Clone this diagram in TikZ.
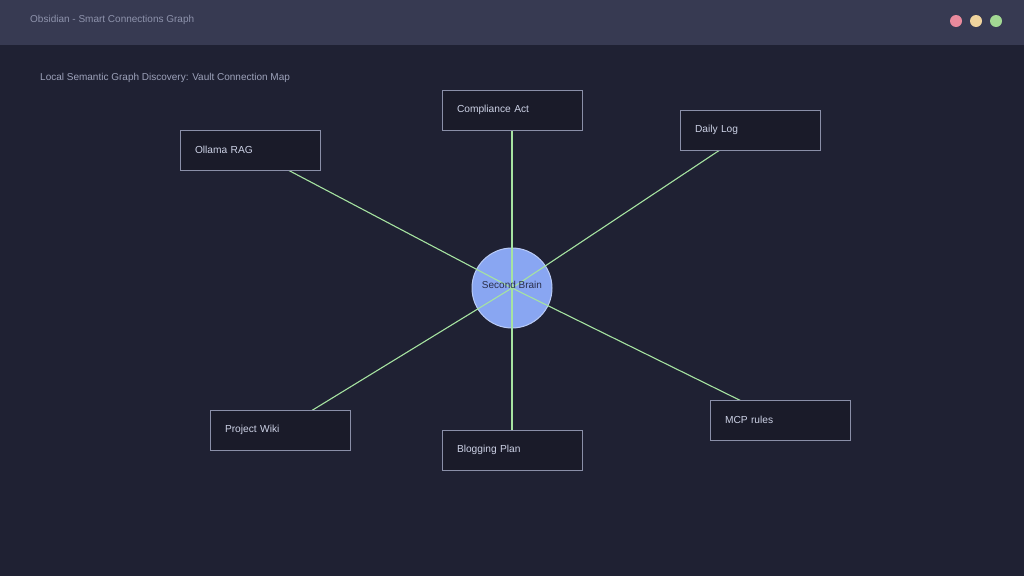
\documentclass[tikz,border=0pt]{standalone}
\usepackage{fontspec}
\setmainfont{Liberation Sans}
\pgfdeclarelayer{bg}
\pgfdeclarelayer{mid}
\pgfsetlayers{bg,mid,main}
\definecolor{canvas}{HTML}{1F2133}
\definecolor{bar}{HTML}{373A52}
\definecolor{titletext}{HTML}{8E93AC}
\definecolor{subtext}{HTML}{9DA2BA}
\definecolor{boxfill}{HTML}{1A1B29}
\definecolor{boxline}{HTML}{8A8FA8}
\definecolor{boxtext}{HTML}{CDD2E6}
\definecolor{edge}{HTML}{A6E3A1}
\definecolor{hubfill}{HTML}{89A6F2}
\definecolor{hubline}{HTML}{B9CBF7}
\definecolor{hubtext}{HTML}{2A2F4C}
\definecolor{dotr}{HTML}{E98A9D}
\definecolor{doty}{HTML}{F0D49E}
\definecolor{dotg}{HTML}{A2D893}
\tikzset{
  notebox/.style={draw=boxline, fill=boxfill, line width=0.9pt, minimum width=140pt, minimum height=40pt,
    text width=110pt, inner xsep=15pt, inner ysep=0pt, align=left, text=boxtext,
    font=\fontsize{10.2}{12}\selectfont},
  link/.style={draw=edge, line width=1.1pt},
  winbtn/.style={circle, minimum size=12pt, inner sep=0pt},
}
\begin{document}
\begin{tikzpicture}[x=1pt,y=-1pt]
\useasboundingbox (0,0) rectangle (1024,576);
\begin{pgfonlayer}{bg}
\fill[canvas] (0,0) rectangle (1024,576);
\fill[bar] (0,0) rectangle (1024,45);
\node[circle, fill=hubfill, draw=hubline, line width=1pt, minimum size=80pt, inner sep=0pt] (hub) at (512,288) {};
\end{pgfonlayer}
\node[anchor=base west, text=titletext, inner sep=0pt, font=\fontsize{10}{12}\selectfont] (title) at (30,22) {Obsidian - Smart Connections Graph};
\node[winbtn, fill=dotr] (b1) at (956,21) {};
\node[winbtn, fill=doty] (b2) at (976,21) {};
\node[winbtn, fill=dotg] (b3) at (996,21) {};
\node[anchor=base west, text=subtext, inner sep=0pt, font=\fontsize{10}{12}\selectfont] (sub) at (40,80) {Local Semantic Graph Discovery: Vault Connection Map};

\node[text=hubtext, inner sep=0pt, font=\fontsize{10}{12}\selectfont] (hublabel) at (512,284.5) {Second Brain};

\node[notebox] (ollama) at (250,150) {Ollama RAG};
\node[notebox] (comp) at (512,110) {Compliance Act};
\node[notebox] (daily) at (750,130) {Daily Log};
\node[notebox] (wiki) at (280,430) {Project Wiki};
\node[notebox] (blog) at (512,450) {Blogging Plan};
\node[notebox] (mcp) at (780,420) {MCP rules};

\begin{pgfonlayer}{mid}
\foreach \n in {ollama,comp,daily,wiki,blog,mcp}
  \draw[link] (\n.center) -- (hub.center);
\end{pgfonlayer}
\end{tikzpicture}
\end{document}
